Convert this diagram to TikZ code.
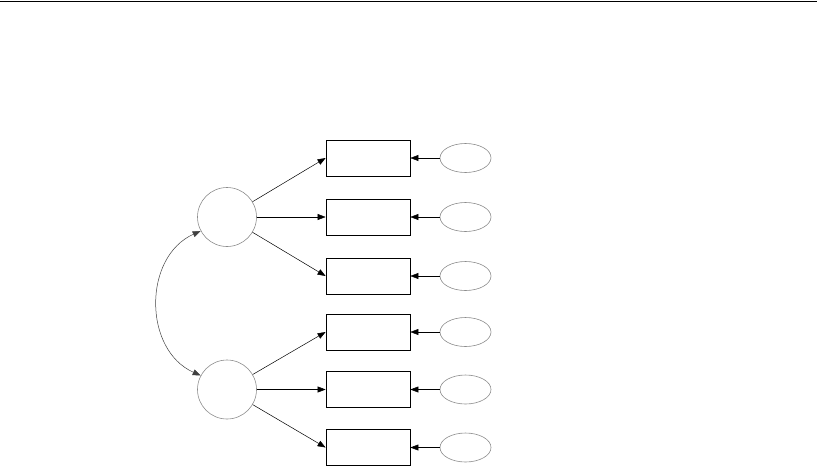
\documentclass[tikz,border=0pt]{standalone}
\usepackage{tikz}
\usetikzlibrary{arrows.meta, shapes.geometric, positioning}
\definecolor{semgray}{HTML}{8C8C8C}

\tikzset{
  latent/.style={circle, draw=semgray, line width=0.6pt, minimum size=59pt, inner sep=0pt},
  observed/.style={rectangle, draw=black, line width=0.8pt, minimum width=84pt, minimum height=36pt, inner sep=0pt},
  errterm/.style={ellipse, draw=semgray, line width=0.6pt, minimum width=51pt, minimum height=29pt, inner sep=0pt},
  path/.style={-{Triangle[length=8pt, width=6pt]}, line width=0.5pt},
  covpath/.style={{Triangle[length=8pt, width=6pt]}-{Triangle[length=8pt, width=6pt]}, line width=0.5pt, draw=black!75}
}

\begin{document}
\begin{tikzpicture}[x=1pt, y=-1pt]
  \useasboundingbox (0,0) rectangle (817,475);
  %% Top rule
  \draw[line width=1.6pt] (0,1.5) -- (817,1.5);

  %% Latent factors
  \node[latent] (lat1) at (227,217) {};
  \node[latent] (lat2) at (227,389.5) {};

  %% Indicators and their error terms: (index, y)
  \foreach \i/\y in {1/158, 2/217, 3/276, 4/332, 5/389.5, 6/447.5} {
    \node[observed] (obs\i) at (368,\y) {};
    \node[errterm] (err\i) at (465.5,\y) {};
    \draw[path] (err\i) -- (obs\i);
  }

  %% Loadings
  \foreach \i in {1,2,3} {
    \draw[path] (lat1) -- (obs\i.west);
  }
  \foreach \i in {4,5,6} {
    \draw[path] (lat2) -- (obs\i.west);
  }

  %% Factor covariance
  \draw[covpath] (lat1.208) to[bend right=66, looseness=1.12] (lat2.152);
\end{tikzpicture}
\end{document}
